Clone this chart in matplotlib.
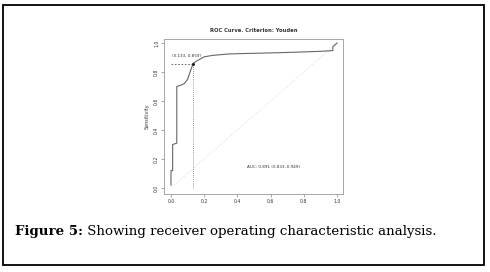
import numpy as np
import matplotlib.pyplot as plt
from matplotlib.patches import Rectangle

# ROC curve points (1 - specificity, sensitivity)
fpr = [0.0, 0.0, 0.01, 0.01, 0.035, 0.035, 0.06, 0.08, 0.10, 0.115, 0.133,
       0.16, 0.20, 0.25, 0.30, 0.35, 0.45, 0.60, 0.75, 0.90, 0.975, 0.975, 1.0]
tpr = [0.02, 0.12, 0.12, 0.30, 0.31, 0.70, 0.71, 0.72, 0.75, 0.80, 0.859,
       0.88, 0.905, 0.915, 0.92, 0.925, 0.928, 0.932, 0.937, 0.943, 0.948, 0.975, 1.0]
cut_x, cut_y = 0.133, 0.859
cut_label = "(0.133, 0.859)"
auc_label = "AUC: 0.891 (0.833\u20130.949)"
title = "ROC Curve. Criterion: Youden"
ticks = [0.0, 0.2, 0.4, 0.6, 0.8, 1.0]
caption_bold = "Figure 5:"
caption_rest = " Showing receiver operating characteristic analysis."

fig = plt.figure(figsize=(4.9, 2.72), dpi=100)

# outer frame
fig.patches.append(Rectangle((3 / 490, 1 - 265 / 272), 481 / 490, 260 / 272,
                             transform=fig.transFigure, fill=False,
                             edgecolor="black", linewidth=1.3))

ax = fig.add_axes([164 / 490, 1 - 194 / 272, 179 / 490, 155 / 272])
ax.plot([0, 1], [0, 1], color="#d8d8d8", lw=0.6, ls=":")
ax.plot([0, cut_x], [cut_y, cut_y], color="#555555", lw=0.6, ls=(0, (2, 2)))
ax.plot([cut_x, cut_x], [0, cut_y], color="#777777", lw=0.6, ls=(0, (1, 1.5)))
ax.plot(fpr, tpr, color="#666666", lw=0.8)
ax.plot([cut_x], [cut_y], marker="o", ms=1.2, color="#222222")
ax.text(0.005, 0.895, cut_label, fontsize=3, color="#333333", va="bottom")
ax.text(0.62, 0.145, auc_label, fontsize=3, color="#333333", ha="center", va="center")

ax.set_xlim(-0.042, 1.036)
ax.set_ylim(-0.041, 1.028)
ax.set_xticks(ticks)
ax.set_yticks(ticks)
ax.set_xticklabels([f"{t:.1f}" for t in ticks], fontsize=3.3, color="#333333")
ax.set_yticklabels([f"{t:.1f}" for t in ticks], fontsize=3.3, color="#333333",
                   rotation=90, va="center")
ax.tick_params(length=2, width=0.4, color="#666666", pad=1.5)
for s in ax.spines.values():
    s.set_color("#999999")
    s.set_linewidth(0.6)
ax.set_ylabel("Sensitivity", fontsize=3.5, color="#333333", labelpad=3)
ax.set_title(title, fontsize=3.8, fontweight="bold", color="#333333", pad=5)

# caption
t = fig.text(15 / 490, 1 - 235 / 272, caption_bold, fontsize=9.6,
             family="DejaVu Serif", fontweight="bold", va="baseline")
fig.canvas.draw()
bb = t.get_window_extent()
fig.text(bb.x1 / 490, 1 - 235 / 272, caption_rest, fontsize=9.6,
         family="DejaVu Serif", va="baseline")

fig.savefig("out.png", dpi=100)
